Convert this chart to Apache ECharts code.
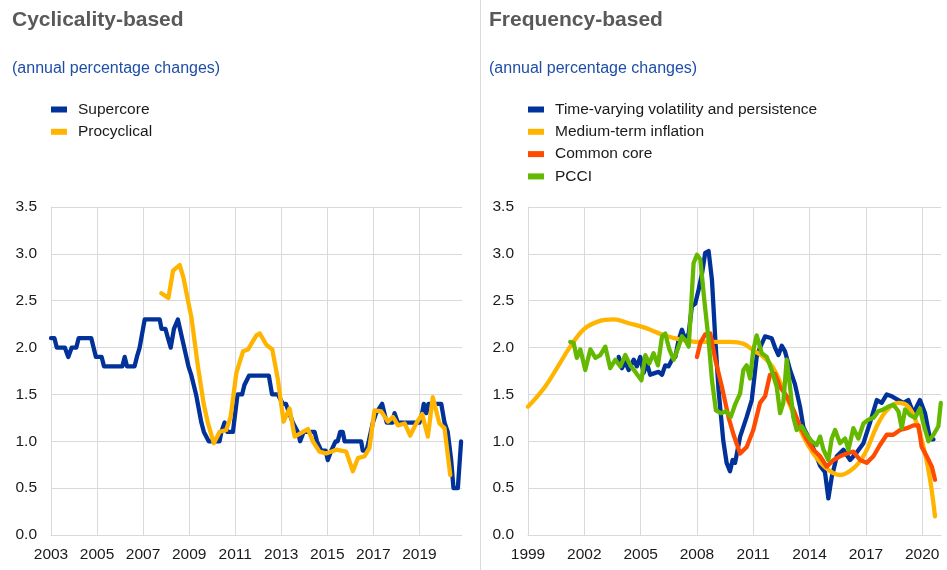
<!DOCTYPE html>
<html>
<head>
<meta charset="utf-8">
<script src="https://cdn.jsdelivr.net/npm/echarts@6/dist/echarts.min.js"></script>
<style>
html,body{margin:0;padding:0;background:#fff;}
#c{width:947px;height:570px;}
</style>
</head>
<body>
<div id="c"></div>
<script>
// ---------- DATA ----------
const leftTitle = 'Cyclicality-based';
const rightTitle = 'Frequency-based';
const subtitleText = '(annual percentage changes)';
const leftNames = ['Supercore', 'Procyclical'];
const rightNames = ['Time-varying volatility and persistence', 'Medium-term inflation', 'Common core', 'PCCI'];
const yTicks = [0, 0.5, 1.0, 1.5, 2.0, 2.5, 3.0, 3.5];

const supercore = [
[2003.0,2.1],[2003.15,2.1],[2003.25,2.0],[2003.6,2.0],[2003.75,1.9],[2003.9,2.0],[2004.1,2.0],[2004.2,2.1],[2004.75,2.1],[2004.95,1.9],[2005.2,1.9],[2005.3,1.8],[2006.1,1.8],[2006.2,1.9],[2006.3,1.8],[2006.63,1.8],[2006.73,1.9],[2006.85,2.0],[2007.07,2.3],[2007.72,2.3],[2007.8,2.2],[2007.97,2.2],[2008.08,2.1],[2008.2,2.0],[2008.34,2.2],[2008.51,2.3],[2008.6,2.2],[2008.68,2.2],[2008.97,1.8],[2009.1,1.7],[2009.3,1.5],[2009.53,1.2],[2009.64,1.1],[2009.85,1.0],[2010.32,1.0],[2010.4,1.1],[2010.54,1.2],[2010.66,1.1],[2010.9,1.1],[2011.1,1.5],[2011.3,1.5],[2011.4,1.6],[2011.6,1.7],[2012.46,1.7],[2012.6,1.5],[2012.85,1.5],[2013.07,1.4],[2013.2,1.4],[2013.5,1.2],[2013.72,1.1],[2013.82,1.0],[2013.97,1.1],[2014.45,1.1],[2014.55,1.0],[2014.74,0.9],[2014.93,0.9],[2015.02,0.8],[2015.17,0.9],[2015.36,1.0],[2015.45,1.0],[2015.56,1.1],[2015.67,1.1],[2015.75,1.0],[2016.47,1.0],[2016.54,0.9],[2016.7,0.9],[2016.8,1.0],[2016.98,1.2],[2017.12,1.3],[2017.38,1.4],[2017.48,1.3],[2017.58,1.2],[2017.84,1.2],[2017.92,1.3],[2018.06,1.2],[2019.0,1.2],[2019.12,1.3],[2019.19,1.4],[2019.3,1.3],[2019.39,1.4],[2019.95,1.4],[2020.09,1.2],[2020.23,1.1],[2020.38,0.8],[2020.48,0.5],[2020.67,0.5],[2020.81,1.0]
];

const procyclical = [
[2007.79,2.58],[2008.1,2.53],[2008.3,2.82],[2008.59,2.88],[2008.75,2.75],[2008.95,2.5],[2009.1,2.32],[2009.38,1.8],[2009.63,1.4],[2009.81,1.2],[2010.07,0.98],[2010.32,1.1],[2010.61,1.12],[2010.8,1.26],[2011.05,1.73],[2011.34,1.96],[2011.56,1.98],[2011.92,2.13],[2012.07,2.15],[2012.35,2.03],[2012.61,1.98],[2012.86,1.65],[2013.1,1.21],[2013.36,1.35],[2013.58,1.05],[2013.87,1.09],[2014.16,1.13],[2014.37,1.0],[2014.66,0.89],[2014.95,0.87],[2015.39,0.91],[2015.82,0.89],[2016.11,0.68],[2016.33,0.82],[2016.62,0.84],[2016.83,0.93],[2017.05,1.33],[2017.34,1.32],[2017.63,1.21],[2017.85,1.26],[2018.07,1.17],[2018.36,1.19],[2018.6,1.06],[2018.86,1.19],[2019.12,1.29],[2019.37,1.05],[2019.58,1.47],[2019.87,1.19],[2020.09,1.14],[2020.34,0.64]
];

const tvvp = [
[2003.83,1.9],[2004.0,1.78],[2004.18,1.85],[2004.36,1.76],[2004.63,1.87],[2004.8,1.8],[2004.98,1.9],[2005.16,1.73],[2005.34,1.83],[2005.51,1.71],[2005.78,1.73],[2005.96,1.74],[2006.14,1.71],[2006.31,1.81],[2006.49,1.8],[2006.67,1.87],[2006.85,1.9],[2007.02,2.08],[2007.2,2.19],[2007.38,2.08],[2007.56,2.15],[2007.73,2.44],[2007.91,2.47],[2008.09,2.62],[2008.27,2.79],[2008.44,3.01],[2008.62,3.03],[2008.8,2.72],[2008.98,2.08],[2009.15,1.55],[2009.4,1.01],[2009.58,0.77],[2009.76,0.68],[2009.9,0.8],[2010.03,0.77],[2010.3,1.05],[2010.65,1.26],[2010.92,1.44],[2011.18,1.9],[2011.36,2.0],[2011.63,2.12],[2011.98,2.1],[2012.16,2.0],[2012.34,1.92],[2012.52,2.02],[2012.69,1.96],[2012.96,1.76],[2013.22,1.61],[2013.49,1.37],[2013.67,1.15],[2014.02,1.01],[2014.29,0.88],[2014.56,0.74],[2014.82,0.67],[2015.0,0.39],[2015.18,0.62],[2015.45,0.84],[2015.8,0.91],[2016.16,0.8],[2016.51,0.88],[2016.87,0.98],[2017.22,1.2],[2017.58,1.44],[2017.84,1.41],[2018.11,1.5],[2018.38,1.48],[2018.73,1.44],[2019.0,1.41],[2019.26,1.44],[2019.53,1.3],[2019.88,1.44],[2020.15,1.3],[2020.42,1.02],[2020.6,1.02]
];

const mediumTerm = [
[1999.0,1.37],[1999.9,1.58],[2000.63,1.81],[2001.25,2.01],[2002.0,2.2],[2002.76,2.28],[2003.56,2.3],[2004.36,2.26],[2005.25,2.21],[2006.14,2.14],[2007.02,2.09],[2008.09,2.06],[2009.0,2.06],[2009.76,2.06],[2010.47,2.04],[2011.0,1.97],[2011.54,1.9],[2012.07,1.78],[2012.6,1.55],[2013.13,1.3],[2013.67,1.05],[2014.2,0.87],[2014.91,0.71],[2015.62,0.64],[2016.33,0.71],[2016.95,0.87],[2017.58,1.16],[2018.11,1.33],[2018.73,1.41],[2019.26,1.37],[2019.71,1.19],[2020.15,0.87],[2020.42,0.59],[2020.68,0.2]
];

const commonCore = [
[2008.0,1.9],[2008.18,2.05],[2008.44,2.14],[2008.71,2.15],[2008.98,1.87],[2009.33,1.58],[2009.69,1.25],[2009.95,1.07],[2010.3,0.87],[2010.65,0.94],[2011.0,1.12],[2011.36,1.41],[2011.63,1.48],[2011.89,1.71],[2012.16,1.72],[2012.43,1.58],[2012.78,1.48],[2013.13,1.34],[2013.49,1.16],[2013.85,1.02],[2014.2,0.91],[2014.56,0.84],[2014.91,0.73],[2015.27,0.8],[2015.62,0.84],[2015.98,0.87],[2016.33,0.89],[2016.69,0.8],[2017.04,0.77],[2017.4,0.84],[2017.75,0.96],[2018.11,1.07],[2018.46,1.07],[2018.82,1.12],[2019.18,1.14],[2019.53,1.17],[2019.8,1.17],[2019.97,0.94],[2020.24,0.84],[2020.51,0.73],[2020.68,0.59]
];

const pcci = [
[2001.25,2.06],[2001.43,2.05],[2001.6,1.89],[2001.79,1.98],[2002.05,1.76],[2002.32,1.98],[2002.59,1.89],[2002.85,1.92],[2003.12,2.01],[2003.38,1.78],[2003.65,1.87],[2003.92,1.8],[2004.18,1.92],[2004.45,1.81],[2004.72,1.74],[2005.04,1.65],[2005.25,1.92],[2005.46,1.83],[2005.69,1.94],[2005.92,1.81],[2006.14,2.12],[2006.31,2.15],[2006.53,1.98],[2006.76,1.87],[2006.99,1.99],[2007.2,2.12],[2007.38,2.08],[2007.56,2.01],[2007.65,2.3],[2007.82,2.9],[2008.0,2.99],[2008.18,2.94],[2008.39,2.51],[2008.62,2.08],[2008.8,1.65],[2009.01,1.33],[2009.28,1.3],[2009.54,1.32],[2009.8,1.26],[2010.03,1.39],[2010.3,1.51],[2010.47,1.76],[2010.65,1.81],[2010.83,1.67],[2011.0,1.97],[2011.18,2.13],[2011.45,1.94],[2011.72,1.9],[2011.98,1.76],[2012.25,1.58],[2012.43,1.3],[2012.6,1.41],[2012.78,1.87],[2012.96,1.58],[2013.13,1.26],[2013.31,1.12],[2013.58,1.16],[2013.85,1.07],[2014.11,1.0],[2014.38,0.96],[2014.56,1.05],[2014.74,0.91],[2015.0,0.8],[2015.18,1.03],[2015.36,1.12],[2015.62,0.98],[2015.89,1.03],[2016.07,0.91],[2016.33,1.14],[2016.6,1.03],[2016.87,1.19],[2017.13,1.23],[2017.4,1.25],[2017.66,1.32],[2017.93,1.34],[2018.2,1.37],[2018.46,1.39],[2018.73,1.32],[2018.91,1.14],[2019.09,1.34],[2019.35,1.28],[2019.62,1.25],[2019.88,1.35],[2020.06,1.19],[2020.33,1.0],[2020.6,1.07],[2020.86,1.16],[2020.99,1.41]
];

// ---------- STYLE ----------
const FONT = '"Liberation Sans", Arial, sans-serif';
const C_BLUE = '#003299', C_YELLOW = '#FFB400', C_ORANGE = '#FF4B00', C_GREEN = '#65B800';
const GRID_COLOR = '#d9d9d9';
const TXT = '#1a1a1a';

function xAxisCfg(gi, min, max, interval) {
  return {
    type: 'value', gridIndex: gi, min: min, max: max, interval: interval,
    axisLine: {show: true, lineStyle: {color: GRID_COLOR, width: 1}},
    axisTick: {show: false},
    axisLabel: {show: true, color: TXT, fontSize: 15.5, fontFamily: FONT, margin: 12,
      showMaxLabel: false, formatter: v => String(Math.round(v))},
    splitLine: {show: true, showMaxLine: false, lineStyle: {color: GRID_COLOR, width: 1}}
  };
}
function yAxisCfg(gi) {
  return {
    type: 'value', gridIndex: gi, min: yTicks[0], max: yTicks[yTicks.length - 1], interval: yTicks[1] - yTicks[0],
    axisLine: {show: true, lineStyle: {color: GRID_COLOR, width: 1}},
    axisTick: {show: false},
    axisLabel: {color: TXT, fontSize: 15.5, fontFamily: FONT, margin: 14, formatter: v => v.toFixed(1)},
    splitLine: {show: true, lineStyle: {color: GRID_COLOR, width: 1}}
  };
}
function lineSeries(name, data, color, gi, smooth) {
  return {
    name: name, type: 'line', xAxisIndex: gi, yAxisIndex: gi, data: data,
    showSymbol: false, symbol: 'none', smooth: smooth || false,
    color: color,
    lineStyle: {color: color, width: 4.3, join: 'round', cap: 'round'},
    emphasis: {disabled: true}, animation: false
  };
}
function legendCfg(names, left) {
  return {
    orient: 'vertical', left: left, top: 98.5, padding: 0, itemGap: 0.3,
    itemWidth: 16, itemHeight: 6, icon: 'rect', data: names,
    selectedMode: false,
    itemStyle: {borderWidth: 0},
    textStyle: {color: TXT, fontSize: 15.5, fontFamily: FONT, lineHeight: 22, padding: [0, 0, 0, 6]}
  };
}
function textEl(x, y, text, font, color) {
  return {type: 'text', x: x, y: y, silent: true,
    style: {text: text, font: font, fill: color, verticalAlign: 'middle', align: 'left'}};
}

const chart = echarts.init(document.getElementById('c'), null, {renderer: 'canvas'});
chart.setOption({
  animation: false,
  backgroundColor: '#ffffff',
  grid: [
    {left: 51, top: 207, width: 411, height: 328},
    {left: 528, top: 207, width: 413, height: 328}
  ],
  xAxis: [xAxisCfg(0, 2003, 2020.85, 2), xAxisCfg(1, 1999, 2021, 3)],
  yAxis: [yAxisCfg(0), yAxisCfg(1)],
  legend: [legendCfg(leftNames, 51), legendCfg(rightNames, 528)],
  graphic: [
    {type: 'line', silent: true, shape: {x1: 480.5, y1: 0, x2: 480.5, y2: 570}, style: {stroke: GRID_COLOR, lineWidth: 1}},
    textEl(12, 20, leftTitle, 'bold 21px ' + FONT, '#595959'),
    textEl(12, 69, subtitleText, '16px ' + FONT, '#1f4ea6'),
    textEl(489, 20, rightTitle, 'bold 21px ' + FONT, '#595959'),
    textEl(489, 69, subtitleText, '16px ' + FONT, '#1f4ea6')
  ],
  series: [
    lineSeries(leftNames[0], supercore, C_BLUE, 0),
    lineSeries(leftNames[1], procyclical, C_YELLOW, 0),
    lineSeries(rightNames[0], tvvp, C_BLUE, 1),
    lineSeries(rightNames[1], mediumTerm, C_YELLOW, 1, 0.4),
    lineSeries(rightNames[2], commonCore, C_ORANGE, 1),
    lineSeries(rightNames[3], pcci, C_GREEN, 1)
  ]
});
</script>
</body>
</html>
